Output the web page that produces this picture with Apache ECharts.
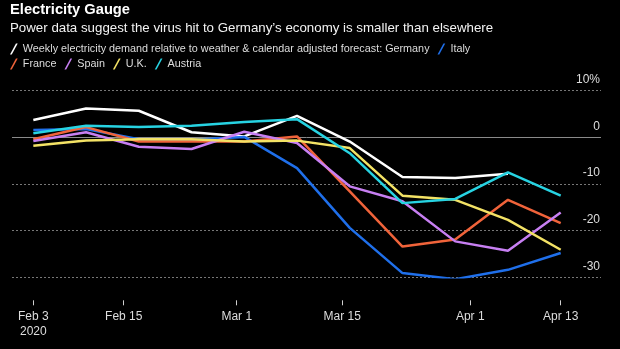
<!DOCTYPE html>
<html>
<head>
<meta charset="utf-8">
<script src="https://cdn.jsdelivr.net/npm/echarts@6/dist/echarts.min.js"></script>
<style>
html,body{margin:0;padding:0;background:#000;}
#c{width:620px;height:349px;}
</style>
</head>
<body>
<div id="c"></div>
<script>
// Weekly observation dates
const weeks = ['2020-02-03','2020-02-10','2020-02-17','2020-02-24','2020-03-02','2020-03-09','2020-03-16','2020-03-23','2020-03-30','2020-04-06','2020-04-13'];
// Demand relative to forecast, %
const germany = [3.7, 6.2, 5.7, 1.1, 0.2, 4.6, -0.9, -8.5, -8.7, -7.8, null];
const italy   = [1.6, 1.8, -0.4, -0.5, 0.1, -6.6, -19.4, -29.1, -30.4, -28.4, -24.8];
const france  = [-0.4, 2.2, -0.9, -0.9, -0.9, 0.2, -11.6, -23.4, -21.9, -13.4, -18.4];
const spain   = [-0.8, 1.1, -2.0, -2.5, 1.2, -1.2, -10.5, -13.7, -22.3, -24.3, -16.1];
const uk      = [-1.8, -0.7, -0.4, -0.4, -0.9, -0.7, -2.3, -12.5, -13.4, -17.7, -24.1];
const austria = [0.9, 2.5, 2.2, 2.5, 3.3, 3.9, -3.4, -14.1, -13.2, -7.5, -12.5];
// Axis ticks
const tickDates  = ['2020-02-03','2020-02-15','2020-03-01','2020-03-15','2020-04-01','2020-04-13'];
const tickLabels = ['Feb 3\n2020','Feb 15','Mar 1','Mar 15','Apr 1','Apr 13'];
const yTicks = [10, 0, -10, -20, -30];

const seriesNames = ['Weekly electricity demand relative to weather & calendar adjusted forecast: Germany','Italy','France','Spain','U.K.','Austria'];
const seriesData = [germany, italy, france, spain, uk, austria];
const seriesColors = ['#ffffff','#1f6fea','#f0633a','#c77ff2','#f3e265','#27d3e2'];

const DAY = 86400000;
const t0 = Date.UTC(2020,1,3);
function dayOf(s){ const p = s.split('-').map(Number); return (Date.UTC(p[0],p[1]-1,p[2]) - t0)/DAY; }
const tickDays = tickDates.map(dayOf);

const FONT = 'Liberation Sans';
const icon = 'path://M0,10 L1.6,10 L7,0 L5.4,0 Z';

const series = seriesNames.map((n,i)=>({
  name: n,
  type: 'line',
  data: seriesData[i].map((v,j)=>[dayOf(weeks[j]), v]),
  symbol: 'none',
  lineStyle: {width: 2.5, color: seriesColors[i]},
  itemStyle: {color: seriesColors[i]},
  z: 3 + i,
  markLine: i === 0 ? {
    silent: true, symbol: 'none', label: {show:false},
    lineStyle: {color:'#8a8a8a', type:'solid', width:1},
    data: [{yAxis: 0}], z: 1
  } : undefined
}));

const legendBase = {
  icon: icon, itemWidth: 8, itemHeight: 11, itemGap: 8, padding: 0,
  textStyle: {color:'#dddddd', fontSize: 10.8, fontFamily: FONT},
  selectedMode: false, orient: 'horizontal'
};

const chart = echarts.init(document.getElementById('c'));
chart.setOption({
  backgroundColor: '#000',
  animation: false,
  title: [{
    text: 'Electricity Gauge', left: 5, top: -3,
    textStyle: {color:'#fff', fontSize: 14.7, fontWeight:'bold', fontFamily: FONT}
  },{
    text: 'Power data suggest the virus hit to Germany’s economy is smaller than elsewhere', left: 5, top: 17,
    textStyle: {color:'#f2f2f2', fontSize: 13.3, fontWeight:'normal', fontFamily: FONT}
  }],
  legend: [
    Object.assign({}, legendBase, {left: 10, top: 43.5, data: [seriesNames[0], seriesNames[1]]}),
    Object.assign({}, legendBase, {left: 10, top: 58.5, data: seriesNames.slice(2)})
  ],
  grid: {left: 12, right: 19, top: 90.7, bottom: 71.7},
  xAxis: {
    type: 'value', min: -2.83, max: 75.35,
    splitLine: {show:false},
    axisLine: {show:true, onZero:false, lineStyle:{color:'rgba(0,0,0,0)'}},
    offset: 23,
    axisTick: {show:true, customValues: tickDays, length: 5, lineStyle:{color:'#d0d0d0', width:1}},
    axisLabel: {
      customValues: tickDays, margin: 9, color:'#dddddd', fontSize: 12, fontFamily: FONT, lineHeight: 15,
      formatter: v => { const k = tickDays.indexOf(v); return k >= 0 ? tickLabels[k] : ''; }
    }
  },
  yAxis: {
    type: 'value', position: 'right', min: -30, max: 10, interval: 10,
    axisLine: {show:false}, axisTick: {show:false},
    splitLine: {show:true, lineStyle:{color:'#777', type:[2,2], width:1}},
    axisLabel: {
      inside: true, margin: 1, color:'#dddddd', fontSize: 12, fontFamily: FONT,
      verticalAlign: 'bottom', padding: [0,0,5,0],
      formatter: v => yTicks.indexOf(v) === 0 ? v + '%' : String(v)
    }
  },
  series: series
});
</script>
</body>
</html>
